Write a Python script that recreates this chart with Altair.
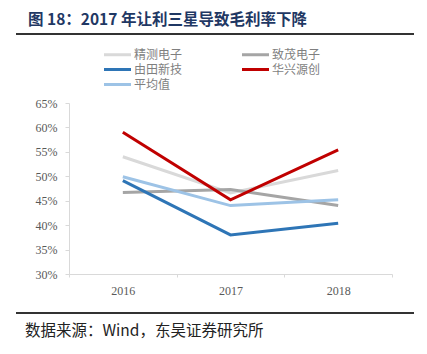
import altair as alt
import pandas as pd

years = ["2016", "2017", "2018"]
series = ["精测电子", "致茂电子", "由田新技", "华兴源创", "平均值"]
colors = ["#d9d9d9", "#a5a5a5", "#2e75b6", "#c00000", "#9dc3e6"]
jingce = [0.540, 0.466, 0.512]
zhimao = [0.467, 0.473, 0.440]
youtian = [0.491, 0.380, 0.404]
huaxing = [0.590, 0.452, 0.554]
average = [0.499, 0.440, 0.452]

# legend fills column by column: reorder so rows read as in the reference
legend_order = ["精测电子", "由田新技", "平均值", "致茂电子", "华兴源创"]
legend_colors = [colors[series.index(s)] for s in legend_order]

title_text = "图 18：2017 年让利三星导致毛利率下降"
source_text = "数据来源：Wind，东吴证券研究所"

rows = []
for name, vals in zip(series, [jingce, zhimao, youtian, huaxing, average]):
    for y, v in zip(years, vals):
        rows.append({"year": y, "series": name, "value": v, "order": series.index(name)})
df = pd.DataFrame(rows)

lines = alt.Chart(df).mark_line(strokeWidth=3).encode(
    x=alt.X("year:N", title=None,
            scale=alt.Scale(type="band", paddingInner=0, paddingOuter=0, domain=years),
            axis=alt.Axis(labelAngle=0, tickBand="extent", domainColor="#d9d9d9",
                          tickColor="#d9d9d9", tickSize=3, labelFont="Liberation Serif",
                          labelFontSize=12, labelColor="#595959", labelPadding=8)),
    y=alt.Y("value:Q", title=None,
            scale=alt.Scale(domain=[0.30, 0.65], nice=False, zero=False),
            axis=alt.Axis(values=[0.30, 0.35, 0.40, 0.45, 0.50, 0.55, 0.60, 0.65],
                          format=".0%", grid=False, domainColor="#d9d9d9",
                          tickColor="#d9d9d9", tickSize=4, labelFont="Liberation Serif",
                          labelFontSize=12, labelColor="#595959", labelPadding=8)),
    color=alt.Color("series:N", scale=alt.Scale(domain=legend_order, range=legend_colors),
                    legend=alt.Legend(orient="none", legendX=41, legendY=-56, columns=2,
                                      symbolType="M-2.25,0H2.25", symbolSize=144,
                                      symbolStrokeWidth=3, labelFontSize=12,
                                      labelFont="Noto Sans CJK SC", labelColor="#7f7f7f",
                                      labelOffset=9, columnPadding=53, rowPadding=1,
                                      title=None)),
    order="order:Q",
)

title = alt.Chart(pd.DataFrame({"t": [title_text]})).mark_text(
    align="left", baseline="middle", fontSize=15.5, fontWeight="bold",
    font="Noto Sans CJK SC", color="#1f3864"
).encode(x=alt.value(-41), y=alt.value(-83), text="t:N")

source = alt.Chart(pd.DataFrame({"t": [source_text]})).mark_text(
    align="left", baseline="middle", fontSize=15.5,
    font="Noto Sans CJK SC", color="#222222"
).encode(x=alt.value(-44), y=alt.value(228), text="t:N")

rule_top = alt.Chart(pd.DataFrame({"a": [0]})).mark_rule(color="#333333", strokeWidth=2).encode(
    x=alt.value(-53), x2=alt.value(345), y=alt.value(-69))
rule_bottom = alt.Chart(pd.DataFrame({"a": [0]})).mark_rule(color="#333333", strokeWidth=2).encode(
    x=alt.value(-53), x2=alt.value(345), y=alt.value(210))

chart = alt.layer(lines, title, source, rule_top, rule_bottom).properties(
    width=323, height=171,
    autosize=alt.AutoSizeParams(type="none"),
    padding={"left": 69, "top": 103, "right": 35, "bottom": 80},
).configure_view(stroke=None)

chart.save("out.html", embed_options={"renderer": "svg", "actions": False})
